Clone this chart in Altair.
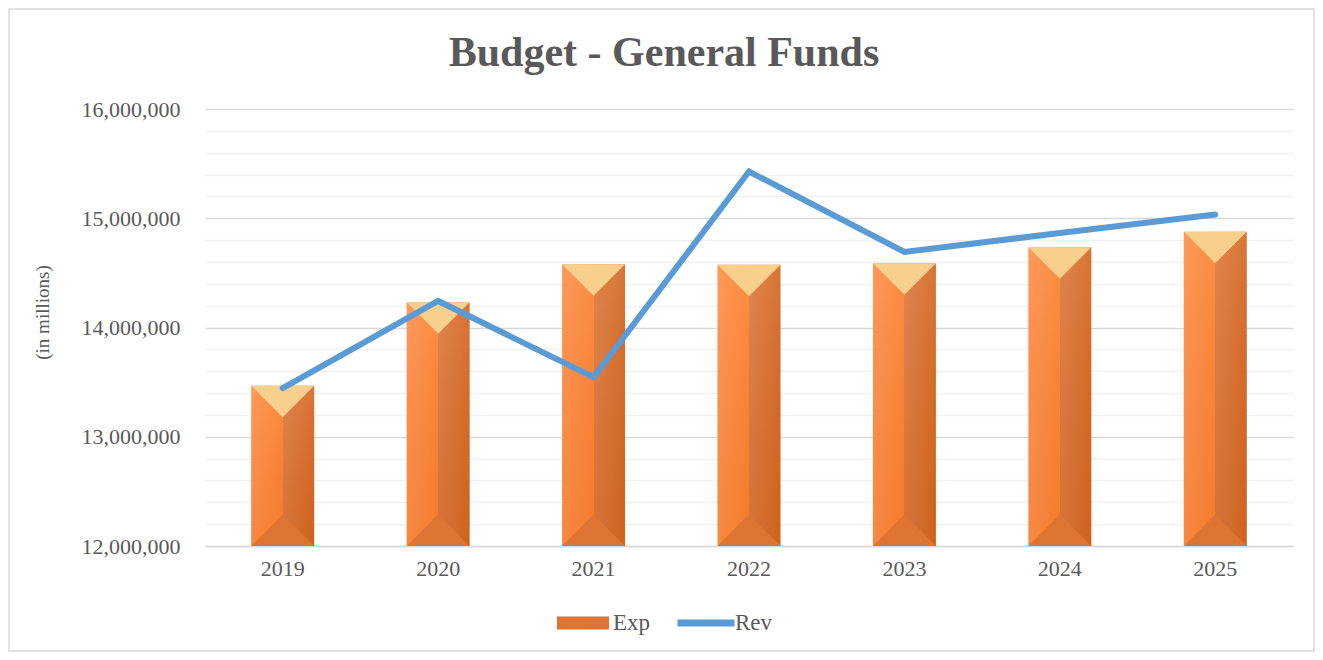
import altair as alt
import pandas as pd

years = ["2019", "2020", "2021", "2022", "2023", "2024", "2025"]
exp_values = [13467000, 14230000, 14578000, 14575000, 14588000, 14734000, 14877000]
rev_values = [13446000, 14243000, 13545000, 15428000, 14691000, 14865000, 15035000]
y_min, y_max = 12000000, 16000000
grid_values = list(range(y_min, y_max + 1, 200000))
title_text = "Budget - General Funds"
y_title = "(in millions)"

df = pd.DataFrame({"year": years, "Exp": exp_values, "Rev": rev_values,
                   "base": [y_min] * len(years)})
df["s_exp"] = "Exp"
df["s_rev"] = "Rev"

W, H = 1088, 437
FONT = "Liberation Serif"
GREY = "#595959"

x_enc = alt.X("year:N", title=None, sort=years,
              axis=alt.Axis(labelAngle=0, ticks=False, domain=True, domainColor="#D9D9D9",
                            domainWidth=1.5, labelFont=FONT, labelFontSize=22,
                            labelColor=GREY, labelPadding=12, grid=False))
y_scale = alt.Scale(domain=[y_min, y_max], nice=False, zero=False)
y_axis = alt.Axis(values=grid_values, tickCount=100, format=",d", labelOverlap=False,
                  labelExpr="datum.value % 1000000 === 0 ? datum.label : ''",
                  gridColor={"condition": {"test": "datum.value % 1000000 === 0", "value": "#D9D9D9"},
                             "value": "#F0F0F0"},
                  gridWidth=1.5, ticks=False, domain=False, labelFont=FONT, labelFontSize=22,
                  labelColor=GREY, labelPadding=25, title=y_title, titleFont=FONT,
                  titleFontSize=19, titleFontWeight="normal", titleColor=GREY,
                  titleX=-153, titleY=203, titleAngle=270, titleBaseline="bottom",
                  titleAlign="center")

base = alt.Chart(df)

bar_fill = {"gradient": "linear", "x1": 0, "x2": 1, "y1": 0, "y2": 0,
            "stops": [{"offset": 0, "color": "#FF8E48"},
                      {"offset": 0.5, "color": "#FB812E"},
                      {"offset": 0.5, "color": "#DD773C"},
                      {"offset": 1, "color": "#D3661F"}]}
bars = base.mark_bar(size=63, fill=bar_fill).encode(
    x=x_enc, y=alt.Y("Exp:Q", scale=y_scale, axis=y_axis), y2="base:Q")

shade_fill = {"gradient": "linear", "x1": 0, "x2": 0, "y1": 0, "y2": 1,
              "stops": [{"offset": 0, "color": "rgba(255,255,255,0.10)"},
                        {"offset": 1, "color": "rgba(120,40,0,0.06)"}]}
shade = base.mark_bar(size=63, fill=shade_fill).encode(
    x=alt.X("year:N", sort=years), y=alt.Y("Exp:Q"), y2="base:Q")

top_tri = base.mark_point(shape="M-1,0L1,0L0,1Z", size=3969, filled=True, opacity=1,
                          fill="#F9CF8C", strokeWidth=0).encode(
    x=alt.X("year:N", sort=years), y=alt.Y("Exp:Q"))

bot_tri = base.mark_point(shape="M-1,0L1,0L0,-1Z", size=3969, filled=True, opacity=1,
                          strokeWidth=0).encode(
    x=alt.X("year:N", sort=years), y=alt.Y("base:Q"),
    fill=alt.Fill("s_exp:N", scale=alt.Scale(domain=["Exp"], range=["#DE7431"]),
                  legend=alt.Legend(title=None, orient="none", legendX=352, legendY=488,
                                    symbolType="M-1,-0.25L1,-0.25L1,0.25L-1,0.25Z",
                                    symbolSize=2704, symbolStrokeWidth=0, symbolOpacity=1,
                                    labelFont=FONT, labelFontSize=23, labelColor=GREY,
                                    labelOffset=4, padding=0)))

line = base.mark_line(strokeWidth=6, strokeCap="round", strokeJoin="miter").encode(
    x=alt.X("year:N", sort=years), y=alt.Y("Rev:Q"),
    stroke=alt.Stroke("s_rev:N", scale=alt.Scale(domain=["Rev"], range=["#5B9BD5"]),
                      legend=alt.Legend(title=None, orient="none", legendX=469, legendY=482,
                                        symbolType="stroke", symbolSize=3249,
                                        symbolStrokeWidth=7, labelFont=FONT,
                                        labelFontSize=23, labelColor=GREY,
                                        labelOffset={"expr": "-3"}, padding=0)))

frame_df = pd.DataFrame({"t": [title_text]})
frame = alt.Chart(frame_df).mark_rect(fill="transparent", stroke="#D9D9D9", strokeWidth=1.5).encode(
    x=alt.value(-196), x2=alt.value(W + 21), y=alt.value(-100), y2=alt.value(H + 105))
title = alt.Chart(frame_df).mark_text(font=FONT, fontSize=42, fontWeight="bold", color=GREY,
                                      align="center", baseline="alphabetic").encode(
    text="t:N", x=alt.value(459), y=alt.value(-43))

chart = alt.layer(frame, bars, shade, top_tri, bot_tri, line, title).properties(
    width=W, height=H,
    autosize=alt.AutoSizeParams(type="none"),
    padding={"left": 197, "top": 101, "right": 22, "bottom": 106},
    background="white",
).configure_view(stroke=None)

chart.save("out.html", embed_options={"renderer": "svg", "actions": False})
